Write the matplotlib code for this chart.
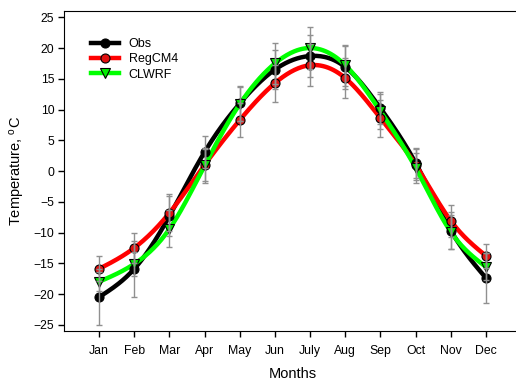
import numpy as np
import matplotlib
matplotlib.use('Agg')
import matplotlib.pyplot as plt
from matplotlib.lines import Line2D

months = ['Jan', 'Feb', 'Mar', 'Apr', 'May', 'Jun', 'July', 'Aug', 'Sep', 'Oct', 'Nov', 'Dec']

obs = [-20.5, -15.9, -7.3, 3.1, 11.0, 16.5, 18.7, 16.9, 10.2, 1.3, -9.7, -17.4]
obs_err = [4.6, 4.6, 3.2, 2.6, 2.8, 3.2, 3.4, 3.5, 2.6, 2.4, 3.0, 4.0]

regcm = [-15.9, -12.5, -6.8, 1.0, 8.3, 14.3, 17.2, 15.1, 8.6, 1.0, -8.1, -13.8]
regcm_err = [2.0, 2.5, 3.0, 2.6, 2.8, 3.0, 3.4, 3.3, 3.0, 2.5, 2.6, 2.0]

clwrf = [-18.0, -15.1, -9.4, 0.9, 10.9, 17.5, 20.0, 17.2, 9.7, 0.5, -9.9, -15.6]
clwrf_err = [1.5, 2.0, 3.0, 2.9, 2.8, 3.3, 3.4, 3.3, 2.8, 2.4, 2.8, 2.2]


def spline(x, y, n=300):
	# natural cubic spline, just for drawing the smooth curve
	x = np.asarray(x, float)
	y = np.asarray(y, float)
	k = len(x)
	h = np.diff(x)
	A = np.zeros((k, k))
	b = np.zeros(k)
	A[0, 0] = 1
	A[-1, -1] = 1
	for i in range(1, k - 1):
		A[i, i - 1] = h[i - 1]
		A[i, i] = 2 * (h[i - 1] + h[i])
		A[i, i + 1] = h[i]
		b[i] = 6 * ((y[i + 1] - y[i]) / h[i] - (y[i] - y[i - 1]) / h[i - 1])
	M = np.linalg.solve(A, b)
	xs = np.linspace(x[0], x[-1], n)
	idx = np.clip(np.searchsorted(x, xs) - 1, 0, k - 2)
	x0, x1 = x[idx], x[idx + 1]
	hh = x1 - x0
	ys = (M[idx] * (x1 - xs) ** 3 / (6 * hh) + M[idx + 1] * (xs - x0) ** 3 / (6 * hh)
		+ (y[idx] / hh - M[idx] * hh / 6) * (x1 - xs)
		+ (y[idx + 1] / hh - M[idx + 1] * hh / 6) * (xs - x0))
	return xs, ys


plt.rcParams['font.family'] = ['Liberation Sans', 'DejaVu Sans']
plt.rcParams['mathtext.default'] = 'regular'

fig = plt.figure(figsize=(5.16, 3.83), dpi=100)
ax = fig.add_axes([0.124, 0.136, 0.886, 0.835])

x = np.arange(1, 13)
series = [
	('Obs', obs, obs_err, 'black', 'o', 'black'),
	('RegCM4', regcm, regcm_err, '#ff0000', 'o', '#e01010'),
	('CLWRF', clwrf, clwrf_err, '#00ff00', 'v', '#00ee00'),
]

handles = []
for name, vals, err, col, mk, mcol in series:
	xs, ys = spline(x, vals)
	ax.plot(xs, ys, color=col, lw=3.2, zorder=2, solid_capstyle='round')
	ax.plot(x, vals, ls='none', marker=mk, ms=6.5, mfc=mcol, mec='black', mew=0.8, zorder=3)
	ax.errorbar(x, vals, yerr=err, fmt='none', ecolor='#909090', elinewidth=1,
		capsize=2.5, capthick=1, zorder=4)
	handles.append(Line2D([], [], color=col, lw=3.2, marker=mk, ms=6.5, mfc=mcol,
		mec='black', mew=0.8))

ax.legend(handles, [s[0] for s in series], loc='upper left', frameon=False,
	fontsize=9, numpoints=1, handlelength=2.2, bbox_to_anchor=(0.035, 0.95),
	labelspacing=0.25, handletextpad=0.8)

ax.set_xlim(0, 13)
ax.set_ylim(-26, 26)
ax.set_xticks(x)
ax.set_xticklabels(months)
ax.set_yticks(np.arange(-25, 26, 5))
ax.tick_params(direction='out', length=4, width=1, labelsize=8.8, pad=6)
ax.tick_params(axis='y', pad=3)
ax.spines['right'].set_visible(False)
ax.set_xlabel('Months', fontsize=10.5, labelpad=7)
ax.set_ylabel('Temperature, $^{o}$C', fontsize=10.5, labelpad=5)

fig.savefig('out.png', dpi=100)
